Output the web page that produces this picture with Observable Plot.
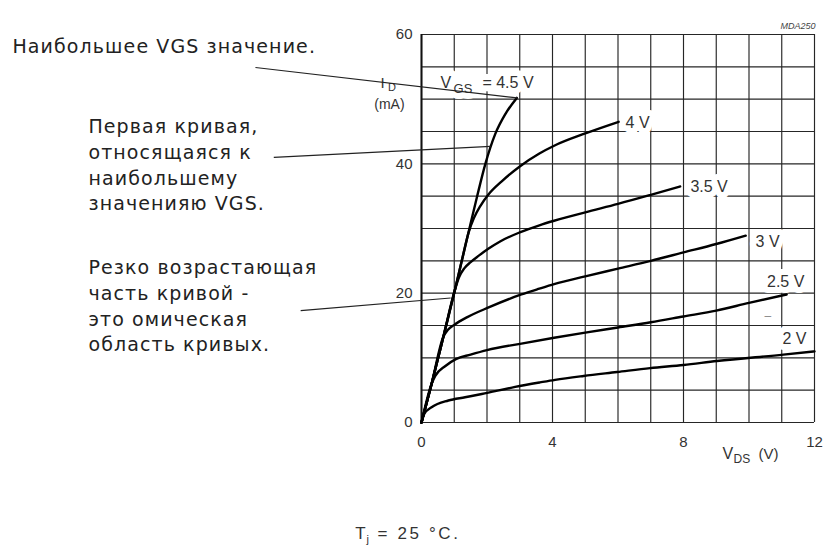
<!DOCTYPE html>
<html>
<head>
<meta charset="utf-8">
<script src="https://cdn.jsdelivr.net/npm/d3@7"></script>
<script src="https://cdn.jsdelivr.net/npm/@observablehq/plot@0.6"></script>
<style>
  body { margin: 0; background: #fff; }
  g[aria-description="note"] text { letter-spacing: 1.1px; }
  g[aria-description="wide"] text { letter-spacing: 2.6px; }
</style>
</head>
<body>
<div id="chart"></div>
<script>
// ---- curve data: [V_DS (V), I_D (mA)] ----
const vgs45 = [[0,0],[0.31,6.0],[0.67,13.3],[1.03,20.7],[1.23,25.0],[1.44,29.5],[1.69,34.8],[1.95,40.0],[2.25,44.6],[2.56,47.7],[2.91,50.2]];
const vgs4  = [[0,0],[0.31,6.0],[0.67,13.3],[1.03,20.7],[1.23,25.0],[1.44,29.4],[1.6,31.6],[1.8,33.5],[2.05,35.3],[2.45,37.3],[3.0,39.6],[3.6,41.6],[4.05,42.8],[5.0,44.7],[6.02,46.5]];
const vgs35 = [[0,0],[0.31,6.0],[0.67,13.3],[1.03,20.7],[1.15,22.5],[1.3,23.8],[1.5,24.8],[1.75,25.8],[2.05,26.9],[2.4,28.0],[3.0,29.4],[3.6,30.5],[4.05,31.2],[5.0,32.5],[6.0,33.8],[7.0,35.2],[7.9,36.5]];
const vgs3  = [[0,0],[0.31,6.0],[0.67,13.3],[0.8,14.3],[1.0,15.1],[1.4,16.3],[2.05,17.8],[3.05,19.8],[3.6,20.7],[4.05,21.4],[5.0,22.6],[6.0,23.8],[7.0,25.0],[8.0,26.3],[9.0,27.6],[9.9,28.9]];
const vgs25 = [[0,0],[0.31,6.0],[0.42,7.2],[0.72,8.7],[1.05,9.8],[1.5,10.5],[2.0,11.2],[3.05,12.2],[4.05,13.1],[5.0,13.9],[6.0,14.7],[7.0,15.5],[8.0,16.4],[9.0,17.3],[10.0,18.5],[11.15,19.8]];
const vgs2  = [[0,0],[0.08,1.3],[0.32,2.4],[0.82,3.4],[1.33,3.9],[1.84,4.4],[2.86,5.5],[3.62,6.2],[4.08,6.6],[4.95,7.2],[5.97,7.8],[6.98,8.4],[8.0,8.9],[9.02,9.5],[11.05,10.5],[12,11.0]];
const curveNames = ["4.5", "4", "3.5", "3", "2.5", "2"];
const curveData = [vgs45, vgs4, vgs35, vgs3, vgs25, vgs2];

// ---- axes ----
const xTicks = [0, 4, 8, 12];
const yTicks = [0, 20, 40, 60];
const gridV = [0,1,2,3,4,5,6,7,8,9,10,11,12];
const gridI = [0,5,10,15,20,25,30,35,40,45,50,55,60];

// ---- curve labels (anchor in data units) ----
const curveLabelText = ["4 V", "3.5 V", "3 V", "2.5 V", "2 V"];
const curveLabelV = [6.23, 8.21, 10.2, 10.55, 11.02];
const curveLabelI = [45.6, 35.6, 27.1, 20.9, 12.2];

// ---- annotations (Russian) ----
const noteText = [
  "Наибольшее VGS значение.",
  "Первая кривая,\nотносящаяся к\nнаибольшему\nзначенияю VGS.",
  "Резко возрастающая\nчасть кривой -\nэто омическая\nобласть кривых."
];
const noteV = [-12.49, -10.17, -10.17];
const noteI = [57.2, 32.8, 11.0];
// leader lines: from text to curve
const leaderV1 = [-5.07, -4.51, -3.69];
const leaderI1 = [54.9, 41.0, 17.3];
const leaderV2 = [2.92, 2.11, 0.89];
const leaderI2 = [50.2, 42.7, 19.25];

const rows = curveData.flatMap((pts, k) => pts.map(([v, i]) => ({vgs: curveNames[k], v, i})));
const curveLabels = curveLabelText.map((t, k) => ({t, v: curveLabelV[k], i: curveLabelI[k]}));
const notes = noteText.map((t, k) => ({t, v: noteV[k], i: noteI[k]}));
const leaders = leaderV1.map((v, k) => ({v1: v, i1: leaderI1[k], v2: leaderV2[k], i2: leaderI2[k]}));

const sans = "'Liberation Sans', Arial, Helvetica, sans-serif";
const txt = (data, o) => Plot.text(data, {x: "v", y: "i", text: "t", textAnchor: "start", lineAnchor: "bottom", fill: "#333", fontFamily: sans, ...o});
const halo = {stroke: "white", strokeWidth: 12, strokeLinejoin: "round", paintOrder: "stroke"};

const plot = Plot.plot({
  width: 824, height: 547,
  marginLeft: 421, marginRight: 10, marginTop: 34, marginBottom: 125,
  x: {domain: [0, 12], label: null},
  y: {domain: [0, 60], label: null},
  style: {fontFamily: sans, background: "white", color: "#222"},
  marks: [
    Plot.ruleX(gridV, {stroke: "#262626", strokeWidth: 1.15}),
    Plot.ruleY(gridI, {stroke: "#262626", strokeWidth: 1.15}),
    Plot.ruleX([0], {stroke: "#111", strokeWidth: 2}),
    Plot.axisX(xTicks, {tickSize: 0, tickPadding: 14, fontSize: 15, label: null, fill: "#333"}),
    Plot.axisY(yTicks, {tickSize: 0, tickPadding: 9, fontSize: 15, label: null, fill: "#333"}),
    // curve labels with white backing
    txt(curveLabels, {fontSize: 16, ...halo}),
    txt([{t: "V", v: 0.58, i: 51.8}], {fontSize: 16, ...halo}),
    txt([{t: "GS", v: 0.98, i: 51.0}], {fontSize: 13, ...halo}),
    txt([{t: "= 4.5 V", v: 1.86, i: 51.8}], {fontSize: 16, ...halo}),
    txt([{t: "–", v: 10.47, i: 15.8}], {fontSize: 12, fill: "#888"}),
    // characteristic curves
    Plot.line(rows, {x: "v", y: "i", z: "vgs", stroke: "#000", strokeWidth: 2.4, curve: "monotone-x"}),
    // axis titles
    txt([{t: "I", v: -1.25, i: 51.8}], {fontSize: 15}),
    txt([{t: "D", v: -1.02, i: 51.3}], {fontSize: 11}),
    txt([{t: "(mA)", v: -0.98, i: 48.5}], {fontSize: 14, textAnchor: "middle"}),
    txt([{t: "V", v: 9.19, i: -5.57}], {fontSize: 16}),
    txt([{t: "DS", v: 9.53, i: -6.34}], {fontSize: 12}),
    txt([{t: "(V)", v: 10.29, i: -5.57}], {fontSize: 15}),
    txt([{t: "MDA250", v: 12.03, i: 60.8}], {fontSize: 9, fontStyle: "italic", textAnchor: "end", fill: "#444"}),
    // condition line
    txt([{t: "T", v: -2.02, i: -17.94}], {fontSize: 17}),
    txt([{t: "j", v: -1.68, i: -18.56}], {fontSize: 11}),
    txt([{t: "= 25 °C.", v: -1.34, i: -17.94}], {fontSize: 17, ariaDescription: "wide"}),
    // leader lines and notes
    Plot.link(leaders, {x1: "v1", y1: "i1", x2: "v2", y2: "i2", stroke: "#222", strokeWidth: 1.2}),
    txt(notes, {fontSize: 19, lineHeight: 1.35, fontFamily: "'DejaVu Sans', sans-serif", fill: "#222", ariaDescription: "note"})
  ]
});
document.getElementById("chart").append(plot);
</script>
</body>
</html>
